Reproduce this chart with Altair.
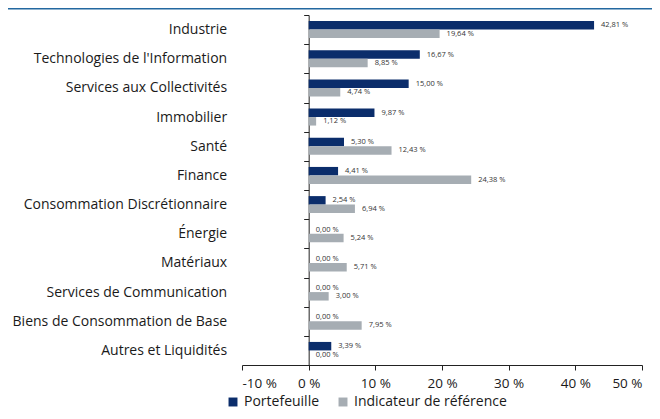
import altair as alt
import pandas as pd

categories = [
    "Industrie",
    "Technologies de l'Information",
    "Services aux Collectivités",
    "Immobilier",
    "Santé",
    "Finance",
    "Consommation Discrétionnaire",
    "Énergie",
    "Matériaux",
    "Services de Communication",
    "Biens de Consommation de Base",
    "Autres et Liquidités",
]
portefeuille = [42.81, 16.67, 15.00, 9.87, 5.30, 4.41, 2.54, 0.00, 0.00, 0.00, 0.00, 3.39]
indicateur = [19.64, 8.85, 4.74, 1.12, 12.43, 24.38, 6.94, 5.24, 5.71, 3.00, 7.95, 0.00]
series = ["Portefeuille", "Indicateur de référence"]
colors = ["#0b2d6b", "#a6adb3"]
x_ticks = [-10, 0, 10, 20, 30, 40, 50]

rows = []
for c, p, i in zip(categories, portefeuille, indicateur):
    for s, v in zip(series, [p, i]):
        rows.append({"cat": c, "serie": s, "val": v,
                     "lab": f"{v:.2f}".replace(".", ",") + " %"})
df = pd.DataFrame(rows)

FONT = "Open Sans"
W, H = 400, 350
zero_px = W * 10 / 60

y_enc = alt.Y("cat:N", sort=categories, title=None,
              scale=alt.Scale(paddingInner=0, paddingOuter=0),
              axis=alt.Axis(offset=-zero_px, tickBand="extent", tickSize=5,
                            labelPadding=77, labelFontSize=14, labelFont=FONT,
                            labelColor="#1a1a1a", domainColor="#222222",
                            tickColor="#222222", labelLimit=400))
yoff = alt.YOffset("serie:N", sort=series,
                   scale=alt.Scale(paddingInner=0, paddingOuter=0.72))
x_enc = alt.X("val:Q", title=None,
              scale=alt.Scale(domain=[-10, 50], nice=False),
              axis=alt.Axis(values=x_ticks, labelExpr="datum.value + ' %'",
                            grid=False, tickSize=5, labelPadding=6,
                            labelFontSize=13.5, labelFont=FONT, labelColor="#1a1a1a",
                            domainColor="#222222", tickColor="#222222"))

bars = alt.Chart(df).mark_bar().encode(
    y=y_enc, yOffset=yoff, x=x_enc,
    color=alt.Color("serie:N", sort=series,
                    scale=alt.Scale(domain=series, range=colors),
                    legend=alt.Legend(title=None, orient="none", direction="horizontal",
                                      legendX=-16, legendY=380, symbolType="square",
                                      symbolSize=80, symbolStrokeWidth=0,
                                      labelFontSize=14, labelFont=FONT,
                                      labelColor="#1a1a1a", columnPadding=16,
                                      symbolOffset=0)),
)

text = alt.Chart(df).mark_text(align="left", baseline="middle", dx=7,
                               fontSize=7.5, font=FONT, color="#333333").encode(
    y=alt.Y("cat:N", sort=categories), yOffset=alt.YOffset("serie:N", sort=series),
    x="val:Q", text="lab:N",
)

top_line = alt.Chart(pd.DataFrame({"a": [0]})).mark_rule(
    color="#2368a0", strokeWidth=1.5).encode(
    x=alt.value(-234), x2=alt.value(413), y=alt.value(-6.2))

chart = alt.layer(bars, text, top_line).properties(
    width=W, height=H,
    autosize=alt.AutoSizeParams(type="none"),
    padding={"left": 234, "top": 7, "right": 10, "bottom": 46},
).configure_view(stroke=None)

chart.save("out.html", embed_options={"renderer": "svg", "actions": False})
